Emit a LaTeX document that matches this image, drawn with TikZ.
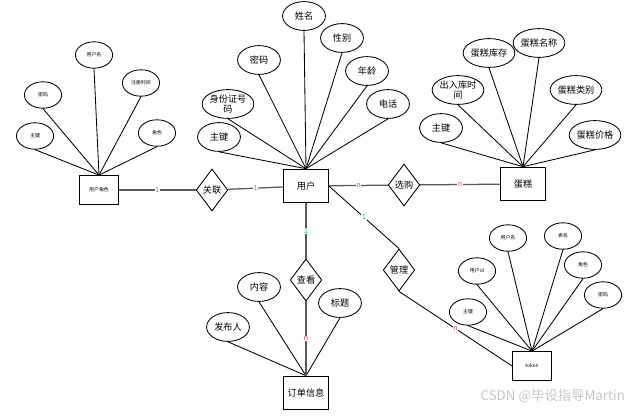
\documentclass[tikz,border=0pt]{standalone}
\usepackage{fontspec}
\setmainfont{Noto Sans CJK SC}
\usepackage{xcolor}
\usetikzlibrary{shapes.geometric}
\definecolor{onecolor}{HTML}{29B6C8}
\definecolor{mancolor}{HTML}{C0504D}

\begin{document}
\begin{tikzpicture}[
    x=0.025cm, y=-0.025cm,
    attr/.style={ellipse, draw, line width=0.6pt, inner sep=0pt,
                 minimum width=1.07cm, minimum height=0.72cm,
                 font=\fontsize{6.5}{7.5}\selectfont, align=center},
    smallattr/.style={attr, minimum width=0.93cm, minimum height=0.66cm,
                      font=\fontsize{3.5}{4}\selectfont},
    entity/.style={rectangle, draw, line width=0.7pt,
                   minimum width=1.12cm, minimum height=0.84cm,
                   font=\fontsize{6.5}{7.5}\selectfont},
    smallentity/.style={entity, minimum width=0.97cm, minimum height=0.72cm,
                        font=\fontsize{3.5}{4}\selectfont},
    rel/.style={diamond, draw, line width=0.6pt, inner sep=0pt,
                minimum width=0.79cm, minimum height=1.05cm,
                font=\fontsize{6.5}{7.5}\selectfont},
    link/.style={draw=gray!70!black, line width=0.9pt},
    spoke/.style={draw, line width=0.6pt},
    card/.style={font=\fontsize{5}{5}\selectfont, inner sep=0.5pt, fill=white}
]
\useasboundingbox (0,0) rectangle (638,415);

% user role entity
\node[smallentity] (role) at (99,190) {用户角色};
\node[smallattr] (roleKey) at (35,136) {主键};
\node[smallattr] (rolePwd) at (43,95) {密码};
\node[smallattr] (roleName) at (94,55) {用户名};
\node[smallattr] (roleTime) at (141,83) {注册时间};
\node[smallattr] (roleRole) at (157,133) {角色};
\foreach \a in {roleKey,rolePwd,roleName,roleTime,roleRole}
  \draw[spoke] (\a.south) -- (role.north);

% user entity
\node[entity] (user) at (306,186) {用户};
\node[attr] (userName) at (304,16) {姓名};
\node[attr] (userSex) at (342,38) {性别};
\node[attr] (userPwd) at (259,60) {密码};
\node[attr] (userAge) at (367,71) {年龄};
\node[attr] (userId) at (228,104) {身份证号\\码};
\node[attr] (userTel) at (388,104) {电话};
\node[attr] (userKey) at (219,137) {主键};
\foreach \a in {userName,userSex,userPwd,userAge,userId,userTel,userKey}
  \draw[spoke] (\a.south) -- (user.north);

% cake entity
\node[entity] (cake) at (523,184) {蛋糕};
\node[attr] (cakeName) at (539,43) {蛋糕名称};
\node[attr] (cakeStock) at (489,53) {蛋糕库存};
\node[attr] (cakeTime) at (458,90) {出入库时\\间};
\node[attr] (cakeType) at (576,90) {蛋糕类别};
\node[attr] (cakeKey) at (441,128) {主键};
\node[attr] (cakePrice) at (595,135) {蛋糕价格};
\foreach \a in {cakeName,cakeStock,cakeTime,cakeType,cakeKey,cakePrice}
  \draw[spoke] (\a.south) -- (cake.north);

% order entity
\node[entity] (order) at (306,393) {订单信息};
\node[attr] (orderText) at (259,287) {内容};
\node[attr] (orderTitle) at (340,303) {标题};
\node[attr] (orderBy) at (228,327) {发布人};
\foreach \a in {orderText,orderTitle,orderBy}
  \draw[spoke] (\a.south) -- (order.north);

% token entity
\node[smallentity] (token) at (532,366) {token};
\node[smallattr] (tokKey) at (468,312) {主键};
\node[smallattr] (tokUid) at (477,271) {用户id};
\node[smallattr] (tokUser) at (508,238) {用户名};
\node[smallattr] (tokTable) at (563,236) {表名};
\node[smallattr] (tokRole) at (583,265) {角色};
\node[smallattr] (tokPwd) at (603,295) {密码};
\foreach \a in {tokKey,tokUid,tokUser,tokTable,tokRole,tokPwd}
  \draw[spoke] (\a.south) -- (token.north);

% relations
\node[rel] (link1) at (212,190) {关联};
\node[rel] (buy) at (404,185) {选购};
\node[rel] (view) at (306,280) {查看};
\node[rel] (manage) at (399,270) {管理};

\draw[link] (role) -- node[card, text=onecolor] {1} (link1);
\draw[link] (link1) -- node[card, text=onecolor] {1} (user);
\draw[link] (user) -- node[card, text=mancolor] {n} (buy);
\draw[link] (buy) -- node[card, text=mancolor] {n} (cake);
\draw[link] (user) -- node[card, text=onecolor] {1} (view);
\draw[link] (view) -- node[card, text=mancolor] {n} (order);
\draw[spoke] (user.east) -- node[card, text=onecolor] {1} (manage.north);
\draw[spoke] (manage.south) -- node[card, text=mancolor, pos=0.5] {n} (token.west);

% watermark
\node[text=gray!45, font=\fontsize{9.5}{10}\selectfont, anchor=east] (mark) at (630,396) {CSDN @毕设指导Martin};
\end{tikzpicture}
\end{document}
